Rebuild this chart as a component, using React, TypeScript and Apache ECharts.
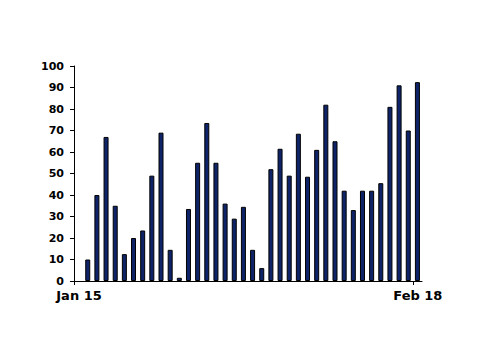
import React, { useEffect, useRef } from "react";
import * as echarts from "echarts";

// Daily values, Jan 15 .. Feb 18 period (37 bars)
const values: number[] = [
  10, 40, 67, 35, 12.5, 20, 23.5, 49, 69, 14.5, 1.5, 33.5, 55, 73.5, 55, 36, 29, 34.5,
  14.5, 6, 52, 61.5, 49, 68.5, 48.5, 61, 82, 65, 42, 33, 42, 42, 45.5, 81, 91, 70, 92.5,
];
const tickLabels: string[] = ["Jan 15", "Feb 18"];
const tickPositions: number[] = [0, 37];
const yMax = 100;
const yStep = 10;

export default function App() {
  const ref = useRef<HTMLDivElement>(null);
  useEffect(() => {
    if (!ref.current) return;
    const chart = echarts.init(ref.current, undefined, { renderer: "svg" });
    const data = values.map((v, i) => [i + 1.5, v]);
    chart.setOption({
      animation: false,
      backgroundColor: "#ffffff",
      grid: { left: 74, right: 78, top: 66, bottom: 73, containLabel: false },
      xAxis: {
        type: "value",
        min: 0,
        max: 38,
        interval: 37,
        splitLine: { show: false },
        axisLine: { show: true, lineStyle: { color: "#000", width: 1 } },
        axisTick: {
          show: true,
          length: 4,
          lineStyle: { color: "#000", width: 1 },
          customValues: tickPositions,
        },
        axisLabel: {
          show: true,
          customValues: tickPositions,
          formatter: (v: number) => tickLabels[tickPositions.indexOf(v)] ?? "",
          fontFamily: "DejaVu Sans",
          fontWeight: "bold",
          fontSize: 13,
          color: "#000",
          margin: 8,
          padding: [0, 0, 0, 10],
        },
      },
      yAxis: {
        type: "value",
        min: 0,
        max: yMax,
        interval: yStep,
        splitLine: { show: false },
        axisLine: { show: true, lineStyle: { color: "#000", width: 1 } },
        axisTick: { show: true, length: 4, lineStyle: { color: "#000", width: 1 } },
        axisLabel: {
          fontFamily: "DejaVu Sans",
          fontWeight: "bold",
          fontSize: 11,
          color: "#000",
          margin: 10,
        },
      },
      series: [
        {
          type: "bar",
          data,
          barWidth: 5,
          itemStyle: { color: "#0f2468", borderColor: "#000", borderWidth: 1 },
        },
      ],
    });
    return () => chart.dispose();
  }, []);
  return (
    <div
      ref={ref}
      style={{ position: "fixed", left: 0, top: 0, width: 500, height: 354, background: "#fff" }}
    />
  );
}
